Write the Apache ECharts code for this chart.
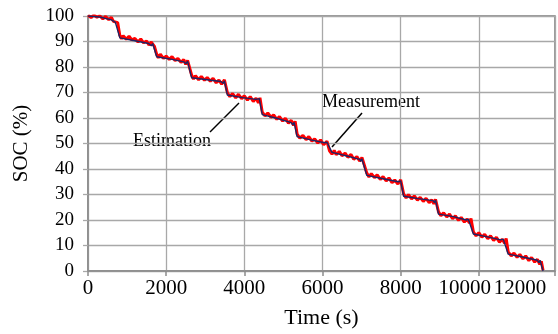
<!DOCTYPE html>
<html>
<head>
<meta charset="utf-8">
<script src="https://cdn.jsdelivr.net/npm/echarts@6/dist/echarts.min.js"></script>
<style>
  html, body { margin: 0; padding: 0; background: #fff; }
  #chart { width: 558px; height: 334px; }
</style>
</head>
<body>
<div id="chart"></div>
<script>
// measured SOC (stepped discharge profile)
const measTime = [0, 300, 600, 700, 739, 815, 1200, 1550, 1620, 1656, 1758, 2150, 2450, 2510, 2548, 2650,
  3050, 3400, 3460, 3491, 3567, 3950, 4300, 4350, 4383, 4459, 4850, 5200, 5240, 5274, 5351,
  5700, 6050, 6090, 6115, 6243, 6600, 6950, 6980, 7007, 7134, 7550, 7940, 7975, 8001, 8077,
  8450, 8830, 8865, 8893, 8969, 9350, 9680, 9710, 9733, 9861, 10250, 10560, 10600, 10625, 10753,
  11150, 11500, 11540, 11568, 11644];
const measSoc = [100, 99.6, 98.5, 97.5, 98.2, 91.4, 90.3, 89.2, 88.3, 89.2, 84, 83, 82, 81.3, 82.3, 75.8,
  75, 74.3, 73.6, 74.6, 69, 68, 67.3, 66.6, 67.6, 61.3, 59.8, 58.2, 57.3, 58.3, 52.7,
  51.4, 50.3, 49.6, 50.5, 46.5, 45.2, 43.8, 43, 44, 37.5, 36.2, 35, 34.3, 35.3, 29.3,
  28.4, 27.6, 26.8, 27.8, 22.3, 21.3, 20, 19.3, 20.3, 14.5, 13.3, 12.2, 11.5, 12.5, 6.6,
  5.4, 4.2, 3.3, 4.2, 0];

// estimated SOC (noisy band)
const estTime = [0, 80, 150, 230, 300, 380, 450, 530, 600, 650, 700, 760, 815, 860, 900, 980, 1050, 1120,
  1200, 1280, 1350, 1420, 1500, 1560, 1620, 1700, 1758, 1800, 1850, 1930, 2000, 2080, 2150, 2230,
  2300, 2380, 2450, 2500, 2548, 2650, 2700, 2750, 2830, 2900, 2980, 3050, 3130, 3200, 3280, 3350,
  3420, 3491, 3567, 3630, 3700, 3780, 3850, 3930, 4000, 4080, 4150, 4230, 4300, 4360, 4400, 4459,
  4530, 4600, 4680, 4750, 4830, 4900, 4980, 5050, 5130, 5200, 5260, 5300, 5351, 5420, 5500, 5580,
  5650, 5730, 5800, 5880, 5950, 6030, 6115, 6180, 6243, 6300, 6350, 6430, 6500, 6580, 6650, 6730,
  6800, 6880, 6950, 7010, 7050, 7134, 7190, 7250, 7330, 7400, 7480, 7550, 7630, 7700, 7780, 7850,
  7930, 8001, 8077, 8140, 8200, 8280, 8350, 8430, 8500, 8580, 8650, 8730, 8800, 8850, 8893, 8969,
  9030, 9100, 9180, 9250, 9330, 9400, 9480, 9550, 9630, 9700, 9760, 9800, 9861, 9930, 10000, 10080,
  10150, 10230, 10300, 10380, 10450, 10530, 10600, 10660, 10700, 10753, 10830, 10900, 10980, 11050,
  11130, 11200, 11280, 11350, 11430, 11500, 11560, 11600, 11644];
const estSoc = [100.3, 99.4, 100.4, 99.5, 100.1, 98.9, 99.8, 98.6, 99.4, 97.9, 98.6, 97.4, 92.4, 91.0,
  92.3, 90.9, 92.1, 90.6, 91.2, 89.8, 91.0, 89.5, 90.2, 88.6, 89.8, 88.1, 84.9, 83.6, 85.0, 83.4,
  84.3, 82.9, 84.1, 82.5, 83.4, 81.8, 82.9, 81.0, 82.6, 76.9, 75.3, 76.6, 75.0, 76.3, 74.8, 75.9,
  74.4, 75.6, 73.8, 74.9, 73.3, 75.0, 69.9, 68.4, 69.6, 67.9, 69.3, 67.6, 68.7, 67.0, 68.4, 66.5,
  67.8, 66.0, 67.9, 62.3, 60.8, 62.0, 60.3, 61.2, 59.5, 60.6, 58.8, 59.9, 58.0, 59.1, 57.1, 58.7,
  53.7, 52.1, 53.2, 51.5, 52.7, 50.9, 51.8, 50.2, 51.4, 49.5, 50.9, 47.1, 45.8, 47.3, 45.6, 46.9,
  45.2, 46.2, 44.6, 45.7, 43.8, 44.9, 43.1, 44.5, 42.6, 38.4, 36.9, 38.2, 36.6, 37.7, 35.9, 37.0,
  35.3, 36.5, 34.6, 35.7, 34.1, 35.8, 30.2, 28.7, 29.9, 28.3, 29.4, 27.8, 28.9, 27.3, 28.5, 26.8,
  27.9, 26.3, 28.1, 23.2, 21.7, 22.8, 21.2, 22.3, 20.5, 21.6, 19.9, 21.0, 19.2, 20.4, 18.8, 20.6,
  15.4, 13.8, 15.0, 13.3, 14.4, 12.7, 13.8, 12.0, 13.2, 11.3, 12.5, 10.9, 12.8, 7.5, 5.9, 7.0, 5.4,
  6.5, 4.8, 5.9, 4.1, 5.3, 3.5, 4.6, 2.6, 3.8, 0.3];

const xMax = 11950;
const font = '"Liberation Serif", serif';

const chart = echarts.init(document.getElementById('chart'), null, { renderer: 'canvas' });

const option = {
  animation: false,
  backgroundColor: '#fff',
  textStyle: { fontFamily: font },
  grid: {
    left: 88, right: 3, top: 16, bottom: 62,
    show: true,
    borderColor: '#7a7a7a',
    borderWidth: 1.5
  },
  xAxis: {
    type: 'value',
    min: 0,
    max: xMax,
    interval: 2000,
    name: 'Time (s)',
    nameLocation: 'middle',
    nameGap: 36,
    nameTextStyle: { fontFamily: font, fontSize: 22, color: '#000' },
    axisLine: { show: true, lineStyle: { color: '#8c8c8c', width: 1.5 } },
    axisTick: { show: true, length: 5, lineStyle: { color: '#8c8c8c', width: 1.5 } },
    splitLine: { show: true, lineStyle: { color: '#a8a8a8', width: 1.3 } },
    axisLabel: {
      fontFamily: font, fontSize: 21, color: '#000', margin: 7,
      showMaxLabel: true,
      formatter: function (v) {
        if (v === 10000) return '{a|10000}';
        if (v === xMax) return '{b|12000}';
        return String(v);
      },
      rich: {
        a: { fontFamily: font, fontSize: 21, color: '#000', padding: [0, 28, 0, 0] },
        b: { fontFamily: font, fontSize: 21, color: '#000', padding: [0, 70, 0, 0] }
      }
    }
  },
  yAxis: {
    type: 'value',
    min: 0,
    max: 100,
    interval: 10,
    name: 'SOC (%)',
    nameLocation: 'middle',
    nameGap: 56,
    nameTextStyle: { fontFamily: font, fontSize: 21, color: '#000' },
    axisLine: { show: true, lineStyle: { color: '#8c8c8c', width: 1.5 } },
    axisTick: { show: true, length: 5, lineStyle: { color: '#a8a8a8', width: 1.3 } },
    splitLine: { show: true, lineStyle: { color: '#a8a8a8', width: 1.3 } },
    axisLabel: { fontFamily: font, fontSize: 19, color: '#000', margin: 14 }
  },
  series: [
    {
      name: 'Estimation',
      type: 'line',
      data: estTime.map((t, i) => [t, estSoc[i]]),
      showSymbol: false,
      lineStyle: { color: '#ff0000', width: 3 },
      z: 2
    },
    {
      name: 'Measurement',
      type: 'line',
      data: measTime.map((t, i) => [t, measSoc[i]]),
      showSymbol: false,
      lineStyle: { color: '#1c2566', width: 1.4 },
      z: 3
    }
  ],
  graphic: [
    // annotation labels with pointer lines
    { type: 'text', left: 322, top: 93, style: { text: 'Measurement', fontFamily: font, fontSize: 18, fill: '#000' } },
    { type: 'line', shape: { x1: 362, y1: 113, x2: 332, y2: 147 }, style: { stroke: '#000', lineWidth: 1.5 } },
    { type: 'text', left: 133, top: 132, style: { text: 'Estimation', fontFamily: font, fontSize: 18, fill: '#000' } },
    { type: 'line', shape: { x1: 210, y1: 132, x2: 239, y2: 103 }, style: { stroke: '#000', lineWidth: 1.5 } }
  ]
};

chart.setOption(option);
</script>
</body>
</html>
